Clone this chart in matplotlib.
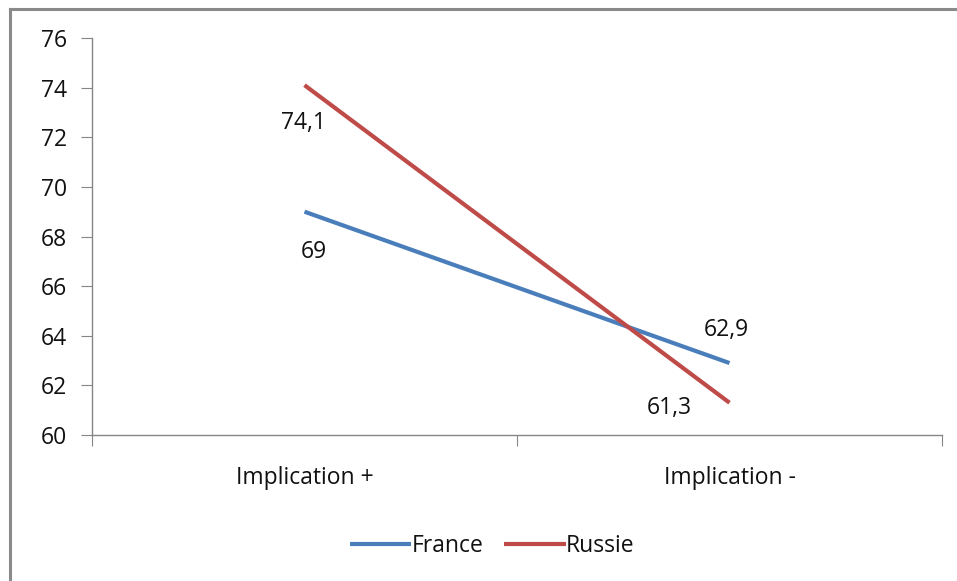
import matplotlib
matplotlib.use("Agg")
import matplotlib.pyplot as plt
from matplotlib.lines import Line2D

categories = ["Implication +", "Implication -"]
france = [69, 62.9]
russie = [74.1, 61.3]
series_names = ["France", "Russie"]
y_ticks = [60, 62, 64, 66, 68, 70, 72, 74, 76]

blue = "#4A7EBB"
red = "#BE4B48"
axis_grey = "#868686"
font = ["Open Sans", "DejaVu Sans"]
fsize = 16.5

fig = plt.figure(figsize=(9.57, 5.81), dpi=100)
fig.patch.set_facecolor("white")

# outer frame (top and left edges)
fig.add_artist(Line2D([9.5 / 957, 9.5 / 957], [0, 1 - 8.5 / 581], color="#8a8a8a", lw=2.2))
fig.add_artist(Line2D([9.5 / 957, 1], [1 - 8.5 / 581, 1 - 8.5 / 581], color="#8a8a8a", lw=2.2))

left, right = 92 / 957, 942 / 957
bottom, top = 1 - 435 / 581, 1 - 38 / 581
ax = fig.add_axes([left, bottom, right - left, top - bottom])

x = [0.5, 1.5]
ax.plot(x, france, color=blue, lw=3.0, solid_capstyle="butt", label=series_names[0])
ax.plot(x, russie, color=red, lw=3.0, solid_capstyle="butt", label=series_names[1])

ax.set_xlim(0, 2)
ax.set_ylim(60, 76)
ax.set_yticks(y_ticks)
ax.set_yticklabels([str(v) for v in y_ticks], fontfamily=font, fontsize=fsize, color="#111111")
ax.set_xticks([0, 1, 2])
ax.set_xticklabels([])
ax.set_xticks(x, minor=True)
ax.set_xticklabels(categories, minor=True, fontfamily=font, fontsize=fsize, color="#111111")
ax.tick_params(axis="x", which="minor", length=0, pad=22)
ax.tick_params(axis="x", which="major", length=8, direction="out", color=axis_grey)
ax.tick_params(axis="y", length=8, direction="out", color=axis_grey, pad=10)

for s in ["top", "right"]:
    ax.spines[s].set_visible(False)
for s in ["left", "bottom"]:
    ax.spines[s].set_color(axis_grey)
    ax.spines[s].set_linewidth(1.0)

def fmt(v):
    return f"{v:g}".replace(".", ",")

lab_kw = dict(fontfamily=font, fontsize=fsize, color="#111111", textcoords="offset points")
ax.annotate(fmt(france[0]), (x[0], france[0]), xytext=(7, -29), ha="center", va="center", **lab_kw)
ax.annotate(fmt(russie[0]), (x[0], russie[0]), xytext=(-1, -27), ha="center", va="center", **lab_kw)
ax.annotate(fmt(france[1]), (x[1], france[1]), xytext=(-2, 24), ha="center", va="center", **lab_kw)
ax.annotate(fmt(russie[1]), (x[1], russie[1]), xytext=(-43, -4), ha="center", va="center", **lab_kw)

leg = fig.legend(loc="center", bbox_to_anchor=(492 / 957, 1 - 546 / 581), ncol=2, frameon=False,
                 prop={"family": font, "size": fsize}, handlelength=2.7, handletextpad=0.0,
                 columnspacing=0.9)
for t in leg.get_texts():
    t.set_color("#111111")

fig.savefig("out.png", dpi=100, facecolor="white")
